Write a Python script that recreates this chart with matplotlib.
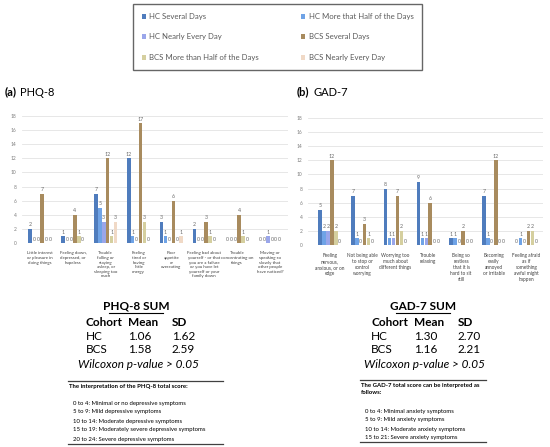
import numpy as np
import matplotlib
matplotlib.use('Agg')
import matplotlib.pyplot as plt
from matplotlib.lines import Line2D

plt.rcParams['font.family'] = ['Lato', 'DejaVu Sans']

# ---- data ----
series_names = ['HC Several Days', 'HC More that Half of the Days', 'HC Nearly Every Day',
                'BCS Several Days', 'BCS More than Half of the Days', 'BCS Nearly Every Day']
series_colors = ['#4f7cbd', '#6fa3e6', '#9aa6ea', '#a88b5e', '#d5cf9f', '#f0d9c6']

phq_items = ['Little interest\nor pleasure in\ndoing things',
             'Feeling down,\ndepressed, or\nhopeless',
             'Trouble\nfalling or\nstaying\nasleep, or\nsleeping too\nmuch',
             'Feeling\ntired or\nhaving\nlittle\nenergy',
             'Poor\nappetite\nor\novereating',
             'Feeling bad about\nyourself - or that\nyou are a failure\nor you have let\nyourself or your\nfamily down',
             'Trouble\nconcentrating on\nthings',
             'Moving or\nspeaking so\nslowly that\nother people\nhave noticed?']
phq_hc_several = [2, 1, 7, 12, 3, 2, 0, 0]
phq_hc_half = [0, 0, 5, 1, 1, 0, 0, 0]
phq_hc_nearly = [0, 0, 3, 0, 0, 0, 0, 1]
phq_bcs_several = [7, 4, 12, 17, 6, 3, 4, 0]
phq_bcs_half = [0, 1, 1, 3, 0, 1, 1, 0]
phq_bcs_nearly = [0, 0, 3, 0, 1, 0, 0, 0]

gad_items = ['Feeling\nnervous,\nanxious, or on\nedge',
             'Not being able\nto stop or\ncontrol\nworrying',
             'Worrying too\nmuch about\ndifferent things',
             'Trouble\nrelaxing',
             'Being so\nrestless\nthat it is\nhard to sit\nstill',
             'Becoming\neasily\nannoyed\nor irritable',
             'Feeling afraid\nas if\nsomething\nawful might\nhappen']
gad_hc_several = [5, 7, 8, 9, 1, 7, 0]
gad_hc_half = [2, 1, 1, 1, 1, 1, 1]
gad_hc_nearly = [2, 0, 1, 1, 0, 0, 0]
gad_bcs_several = [12, 3, 7, 6, 2, 12, 2]
gad_bcs_half = [2, 1, 2, 0, 0, 0, 2]
gad_bcs_nearly = [0, 0, 0, 0, 0, 0, 0]

y_ticks = [0, 2, 4, 6, 8, 10, 12, 14, 16, 18]

table_cols = ['Cohort', 'Mean', 'SD']
phq_rows = [['HC', '1.06', '1.62'], ['BCS', '1.58', '2.59']]
gad_rows = [['HC', '1.30', '2.70'], ['BCS', '1.16', '2.21']]
phq_interp = ['0 to 4: Minimal or no depressive symptoms',
              '5 to 9: Mild depressive symptoms',
              '10 to 14: Moderate depressive symptoms',
              '15 to 19: Moderately severe depressive symptoms',
              '20 to 24: Severe depressive symptoms']
gad_interp = ['0 to 4: Minimal anxiety symptoms',
              '5 to 9: Mild anxiety symptoms',
              '10 to 14: Moderate anxiety symptoms',
              '15 to 21: Severe anxiety symptoms']

W, H = 550, 447
fig = plt.figure(figsize=(W / 100, H / 100), dpi=100)


def bar_panel(rect, items, series, xlim, label_size):
    ax = fig.add_axes(rect)
    x = np.arange(len(items))
    bw = 0.12
    handles = []
    for i, vals in enumerate(series):
        b = ax.bar(x + (i - 2.5) * bw, vals, bw * 0.9, color=series_colors[i],
                   label=series_names[i], zorder=3)
        ax.bar_label(b, fontsize=3.8, color='#6b6b6b', padding=1)
        handles.append(b)
    ax.set_ylim(0, 18)
    ax.set_xlim(*xlim)
    ax.set_yticks(y_ticks)
    ax.set_yticklabels([str(t) for t in y_ticks], fontsize=3.5, color='#7f7f7f')
    ax.set_xticks(x)
    ax.set_xticklabels(items, fontsize=label_size, color='#404040', linespacing=1.2)
    ax.tick_params(length=0, pad=4)
    ax.tick_params(axis='x', pad=6)
    ax.grid(axis='y', color='#e3e3e3', lw=0.6, zorder=0)
    for s in ax.spines.values():
        s.set_visible(False)
    return ax, handles


ax1, handles = bar_panel([22 / W, 1 - 243 / H, 266 / W, 127 / H], phq_items,
                         [phq_hc_several, phq_hc_half, phq_hc_nearly,
                          phq_bcs_several, phq_bcs_half, phq_bcs_nearly], (-0.55, 7.55), 3.15)
ax2, _ = bar_panel([308 / W, 1 - 245 / H, 235 / W, 127 / H], gad_items,
                   [gad_hc_several, gad_hc_half, gad_hc_nearly,
                    gad_bcs_several, gad_bcs_half, gad_bcs_nearly], (-0.67, 6.5), 3.4)

# legend, filled row by row like the original
order = [0, 2, 4, 1, 3, 5]
leg = fig.legend([handles[i] for i in order], [series_names[i] for i in order],
                 ncol=2, loc='center', mode='expand',
                 bbox_to_anchor=(133 / W, 1 - 71 / H, 289 / W, 68 / H),
                 fontsize=5.6, frameon=True, fancybox=False, edgecolor='#404040',
                 handlelength=0.6, handleheight=0.6, handletextpad=0.4,
                 labelspacing=1.75, borderpad=1.1, borderaxespad=0)
leg.get_frame().set_linewidth(1.0)
for t in leg.get_texts():
    t.set_color('#595959')

# overlay in pixel coordinates for the text parts
ov = fig.add_axes([0, 0, 1, 1], zorder=-1)
ov.set_xlim(0, W)
ov.set_ylim(H, 0)
ov.axis('off')

ov.text(5, 92, '(a)', fontsize=8, fontweight='bold', va='center')
ov.text(20, 92, 'PHQ-8', fontsize=8, va='center')
ov.text(297, 92, '(b)', fontsize=8, fontweight='bold', va='center')
ov.text(313, 92, 'GAD-7', fontsize=8, va='center')


def summary(title, cx, col_x, rows, wil_x, box_x0, box_x1, box_top, head_lines,
            item_y0, items, box_bottom):
    ov.text(cx, 306, title, fontsize=8.5, fontweight='bold', ha='center', va='center')
    ov.add_line(Line2D([cx - 27, cx + 27], [313, 313], color='black', lw=0.8))
    for j, c in enumerate(table_cols):
        ov.text(col_x[j], 323, c, fontsize=8.5, fontweight='bold', va='center')
    for r, row in enumerate(rows):
        for j, v in enumerate(row):
            ov.text(col_x[j], 336 + 13.5 * r, v, fontsize=8.5, va='center')
    ov.text(wil_x, 365, 'Wilcoxon p-value > 0.05', fontsize=8.5, style='italic',
            ha='center', va='center')
    ov.add_line(Line2D([box_x0, box_x1], [box_top, box_top], color='#404040', lw=0.9))
    for k, hl in enumerate(head_lines):
        ov.text(box_x0 + 1, box_top + 5.5 + 7.5 * k, hl, fontsize=4.3,
                fontweight='bold', va='center')
    for k, it in enumerate(items):
        ov.text(box_x0 + 5, item_y0 + 9 * k, it, fontsize=4.3, va='center')
    ov.add_line(Line2D([box_x0, box_x1], [box_bottom, box_bottom], color='#404040', lw=0.9))


summary('PHQ-8 SUM', 136, [86, 128, 172], phq_rows, 138, 68, 223, 381,
        ['The interpretation of the PHQ-8 total score:'], 403, phq_interp, 444)
summary('GAD-7 SUM', 423, [371, 414, 458], gad_rows, 424, 360, 486, 380,
        ['The GAD-7 total score can be interpreted as', 'follows:'], 411, gad_interp, 442)

fig.savefig('out.png', dpi=100)
